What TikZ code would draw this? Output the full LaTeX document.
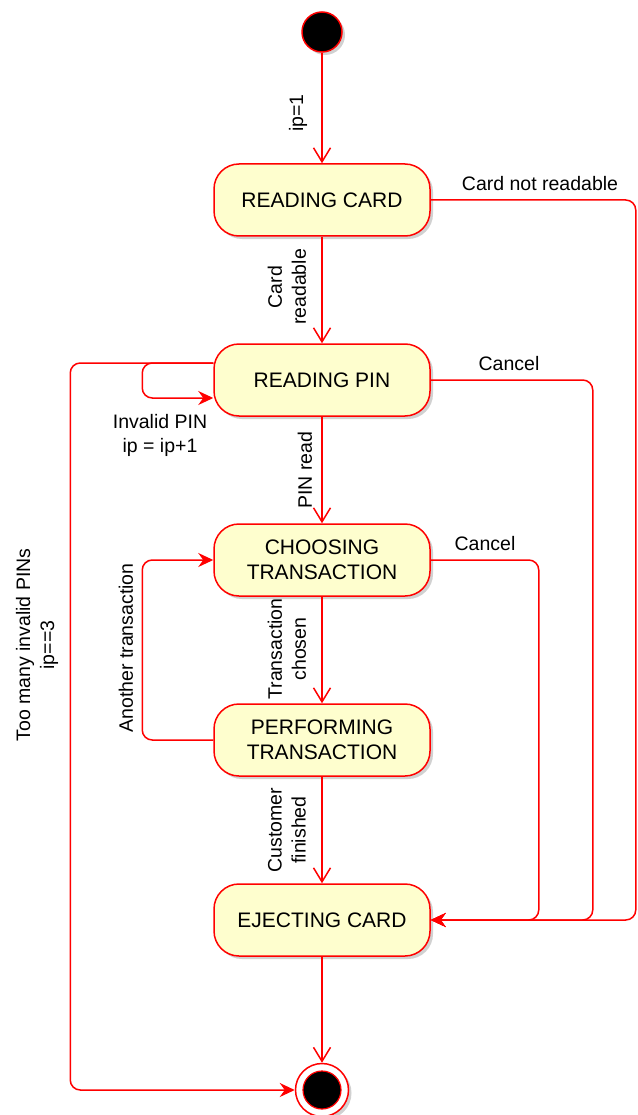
\documentclass[tikz,border=0pt]{standalone}
\usepackage{fontspec}
\setmainfont{Liberation Sans}
\usetikzlibrary{arrows.meta,shadows,calc}
\definecolor{stfill}{HTML}{FEFECE}
\definecolor{lred}{HTML}{FF0000}
\begin{document}
\begin{tikzpicture}[x=1pt,y=-1pt,
  state/.style={draw=lred, line width=1.5pt, fill=stfill, rounded corners=25pt,
    minimum width=216pt, minimum height=72pt, align=center,
    font=\fontsize{21}{25}\selectfont,
    drop shadow={shadow xshift=3pt, shadow yshift=-3pt, opacity=0.3, fill=black!60}},
  tr/.style={draw=lred, line width=1.5pt, -{Straight Barb[length=14pt,width=17pt]}},
  trf/.style={draw=lred, line width=1.5pt, rounded corners=10pt,
    -{Stealth[length=15pt,width=14pt,inset=5pt]}},
  lbl/.style={font=\fontsize{19.5}{24}\selectfont, align=center, inner sep=0pt},
]
\useasboundingbox (0,0) rectangle (637,1115);

\node[circle, draw=lred, fill=black, line width=1.5pt, minimum size=40pt,
  drop shadow={shadow xshift=3pt, shadow yshift=-3pt, opacity=0.3, fill=black!60}] (init) at (322,32) {};
\node[state] (rc) at (322,200) {READING CARD};
\node[state] (rp) at (322,380) {READING PIN};
\node[state] (ct) at (322,560) {CHOOSING\\TRANSACTION};
\node[state] (pt) at (322,740) {PERFORMING\\TRANSACTION};
\node[state] (ej) at (322,920) {EJECTING CARD};
\node[circle, draw=lred, fill=white, line width=1.5pt, minimum size=53pt,
  drop shadow={shadow xshift=3pt, shadow yshift=-3pt, opacity=0.3, fill=black!60}] (fin) at (322,1090) {};
\node[circle, draw=lred, fill=black, line width=1.2pt, minimum size=38pt] (fininner) at (fin) {};

% main vertical transitions
\draw[tr] (init) -- (rc);
\draw[tr] (rc) -- (rp);
\draw[tr] (rp) -- (ct);
\draw[tr] (ct) -- (pt);
\draw[tr] (pt) -- (ej);
\draw[tr] (ej) -- (fin);

\node[lbl, rotate=90] (l1) at (298,113) {ip=1};
\node[lbl, rotate=90] (l2) at (287,287) {Card\\readable};
\node[lbl, rotate=90] (l3) at (305,470) {PIN read};
\node[lbl, rotate=90] (l4) at (287,649) {Transaction\\chosen};
\node[lbl, rotate=90] (l5) at (287,830) {Customer\\finished};

% right side transitions to EJECTING CARD
\draw[trf] (rc.east) -- ++(205,0) |- (ej.east);
\draw[trf] (rp.east) -- ++(162,0) |- (ej.east);
\draw[trf] (ct.east) -- ++(108,0) |- (ej.east);
\node[lbl] (l6) at (540,184) {Card not readable};
\node[lbl] (l7) at (509,364) {Cancel};
\node[lbl] (l8) at (485,544) {Cancel};

% left side transitions
\draw[trf] (pt.west) -- ++(-71,0) |- (ct.west);
\node[lbl, rotate=90] (l9) at (126,648) {Another transaction};

\draw[trf] ([yshift=17pt]rp.west) -- ++(-71,0) |- ([yshift=-18pt]rp.west);
\node[lbl] (l10) at (160,435) {Invalid PIN\\ip = ip+1};

\draw[trf] ([yshift=17pt]rp.west) -- ++(-143,0) |- (fin.west);
\node[lbl, rotate=90] (l11) at (37,645) {Too many invalid PINs\\ip==3};
\end{tikzpicture}
\end{document}
